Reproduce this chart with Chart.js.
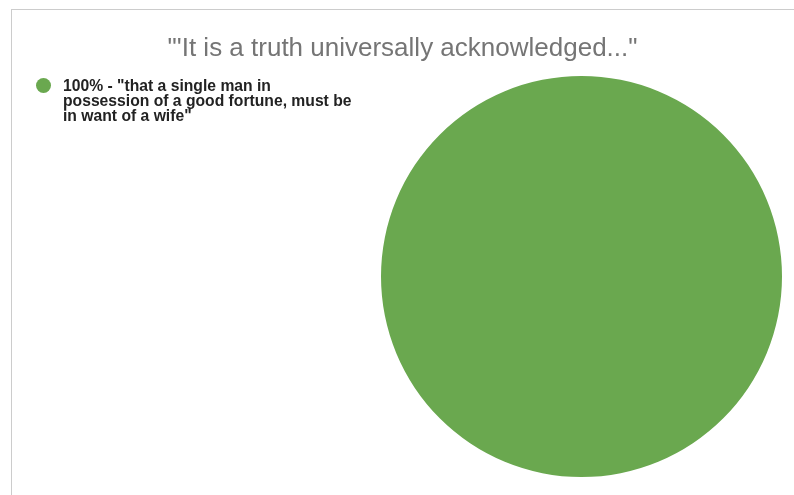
<!DOCTYPE html>
<html>
<head>
<meta charset="utf-8">
<script src="https://cdn.jsdelivr.net/npm/chart.js@4"></script>
<style>
  html, body { margin: 0; padding: 0; background: #fff; }
  #wrap { position: absolute; left: 0; top: 0; width: 794px; height: 495px; }
  #frame { position: absolute; left: 11px; top: 9px; right: 0; bottom: 0;
           border-top: 1px solid #cccccc; border-left: 1px solid #cccccc; }
  canvas { position: absolute; left: 0; top: 0; }
</style>
</head>
<body>
<div id="wrap">
  <div id="frame"></div>
  <canvas id="chart" width="794" height="495"></canvas>
</div>
<script>
// chart data
const titleText = '"\'It is a truth universally acknowledged..."';
const categories = ['"that a single man in possession of a good fortune, must be in want of a wife"'];
const values = [1];
const colors = ['#6aa84f'];
// legend wraps exactly like the original
const legendLines = ['100% - "that a single man in', 'possession of a good fortune, must be', 'in want of a wife"'];

// draws the title and the left legend
const sheetText = {
    id: 'sheetText',
    afterDraw(chart) {
        const ctx = chart.ctx;
        ctx.save();
        ctx.fillStyle = '#757575';
        ctx.font = '26px "Liberation Sans", Arial, sans-serif';
        ctx.textAlign = 'center';
        ctx.textBaseline = 'alphabetic';
        ctx.fillText(titleText, 402.5, 56);

        ctx.fillStyle = colors[0];
        ctx.beginPath();
        ctx.arc(43.5, 85.5, 7.5, 0, Math.PI * 2);
        ctx.fill();

        ctx.fillStyle = '#222222';
        ctx.font = 'bold 15.7px "Liberation Sans", Arial, sans-serif';
        ctx.textAlign = 'left';
        legendLines.forEach((line, i) => {
            ctx.fillText(line, 63, 91 + i * 15);
        });
        ctx.restore();
    }
};

const chart = document.querySelector('#chart').getContext('2d');

new Chart(chart, {
    type: 'pie',
    data: {
        labels: categories,
        datasets: [
            {
                data: values,
                backgroundColor: colors,
                borderWidth: 0
            }
        ]
    },
    options: {
        responsive: false,
        animation: false,
        layout: {
            padding: { left: 381, right: 12, top: 76, bottom: 18 }
        },
        plugins: {
            legend: { display: false },
            title: { display: false },
            tooltip: { enabled: false }
        }
    },
    plugins: [sheetText]
});
</script>
</body>
</html>
